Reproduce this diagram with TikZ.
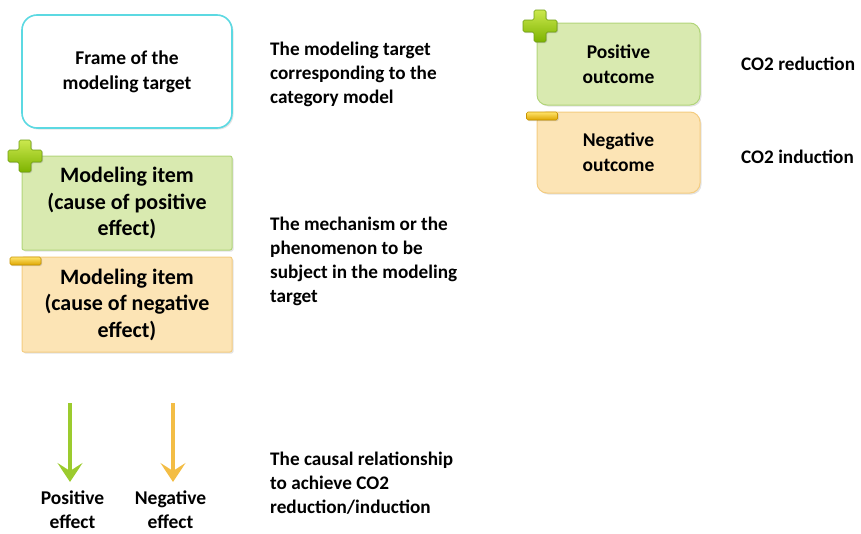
\documentclass[tikz,border=0pt]{standalone}
\usepackage{fontspec}
\setmainfont{Carlito}
\usetikzlibrary{arrows.meta,shadows}
\definecolor{framecyan}{HTML}{5CD9E2}
\definecolor{posfill}{HTML}{D9EAB0}
\definecolor{posdraw}{HTML}{B2D57A}
\definecolor{negfill}{HTML}{FCE4B5}
\definecolor{negdraw}{HTML}{F4CC80}
\definecolor{posarrow}{HTML}{9CCB2E}
\definecolor{negarrow}{HTML}{F3BD45}
\definecolor{plustop}{HTML}{CBE84E}
\definecolor{plusbot}{HTML}{7DB300}
\definecolor{plusedge}{HTML}{6E9E12}
\definecolor{mintop}{HTML}{FFE36A}
\definecolor{minbot}{HTML}{DDA500}
\definecolor{minedge}{HTML}{C89400}
\tikzset{
  x=1pt, y=-1pt,
  boxshadow/.style={drop shadow={opacity=0.22, shadow xshift=1.5pt, shadow yshift=-1.5pt}},
  boxtext/.style={font=\bfseries\fontsize{19.5}{25}\selectfont, align=center, text=black},
  itemtext/.style={font=\bfseries\fontsize{22}{26.5}\selectfont, align=center, text=black},
  desctext/.style={font=\bfseries\fontsize{19.2}{24}\selectfont, align=left, anchor=base west, inner sep=0pt, text=black},
  labeltext/.style={font=\bfseries\fontsize{19.5}{23.5}\selectfont, align=center, anchor=base, inner sep=0pt, text=black},
  framebox/.style={draw=framecyan, line width=1.6pt, fill=white, rounded corners=15pt, minimum width=210pt, minimum height=113pt, boxshadow, boxtext},
  positem/.style={draw=posdraw, line width=1pt, fill=posfill, rounded corners=2pt, minimum width=210pt, minimum height=94pt, boxshadow, itemtext},
  negitem/.style={draw=negdraw, line width=1pt, fill=negfill, rounded corners=2pt, minimum width=210pt, minimum height=95pt, boxshadow, itemtext},
  posout/.style={draw=posdraw, line width=1pt, fill=posfill, rounded corners=10pt, minimum width=163pt, minimum height=82pt, boxshadow, boxtext},
  negout/.style={draw=negdraw, line width=1pt, fill=negfill, rounded corners=10pt, minimum width=163pt, minimum height=81pt, boxshadow, boxtext},
  effectarrow/.style={line width=4.5pt, -{Stealth[length=19pt, width=25pt, inset=8pt]}},
  plusicon/.pic={
    \path[draw=plusedge, line width=0.6pt, top color=plustop, bottom color=plusbot, rounded corners=1.5pt, drop shadow={opacity=0.3, shadow xshift=1pt, shadow yshift=-1pt}]
      (-6,-16) -- (6,-16) -- (6,-6) -- (17,-6) -- (17,6) -- (6,6) -- (6,16) -- (-6,16) -- (-6,6) -- (-17,6) -- (-17,-6) -- (-6,-6) -- cycle;
  },
  minusicon/.pic={
    \path[draw=minedge, line width=0.6pt, top color=mintop, bottom color=minbot, rounded corners=1.5pt, drop shadow={opacity=0.3, shadow xshift=1pt, shadow yshift=-1pt}]
      (-15.5,-4) rectangle (15.5,4);
  }
}
\begin{document}
\begin{tikzpicture}
\useasboundingbox (0,0) rectangle (861,533);

% left boxes
\node[framebox] (frame) at (127,71.5) {\raisebox{-3pt}{\begin{tabular}{@{}c@{}}Frame of the\\modeling target\end{tabular}}};
\node[positem] (positem) at (127,203) {Modeling item\\(cause of positive\\effect)};
\node[negitem] (negitem) at (127,304.5) {Modeling item\\(cause of negative\\effect)};
\pic at (25,156) {plusicon};
\pic at (25.5,261) {minusicon};

% right boxes
\node[posout] (posout) at (618.5,64) {Positive\\outcome};
\node[negout] (negout) at (618.5,152.5) {Negative\\outcome};
\pic at (540,26) {plusicon};
\pic at (542,116) {minusicon};

% descriptions (base anchor = baseline of the last line)
\node[desctext] (d1) at (270,103) {The modeling target\\corresponding to the\\category model};
\node[desctext] (d2) at (270,302) {The mechanism or the\\phenomenon to be\\subject in the modeling\\target};
\node[desctext] (d3) at (270,513) {The causal relationship\\to achieve CO2\\reduction/induction};
\node[desctext] (co2r) at (741,70) {CO2 reduction};
\node[desctext] (co2i) at (741,163) {CO2 induction};

% effect arrows
\coordinate (ga) at (70,403);
\coordinate (gb) at (70,482);
\coordinate (oa) at (173,403);
\coordinate (ob) at (173,482);
\draw[effectarrow, draw=posarrow, fill=posarrow] (ga) -- (gb);
\draw[effectarrow, draw=negarrow, fill=negarrow] (oa) -- (ob);
\node[labeltext] (pl) at (72.5,528) {Positive\\effect};
\node[labeltext] (nl) at (170.5,528) {Negative\\effect};
\end{tikzpicture}
\end{document}
